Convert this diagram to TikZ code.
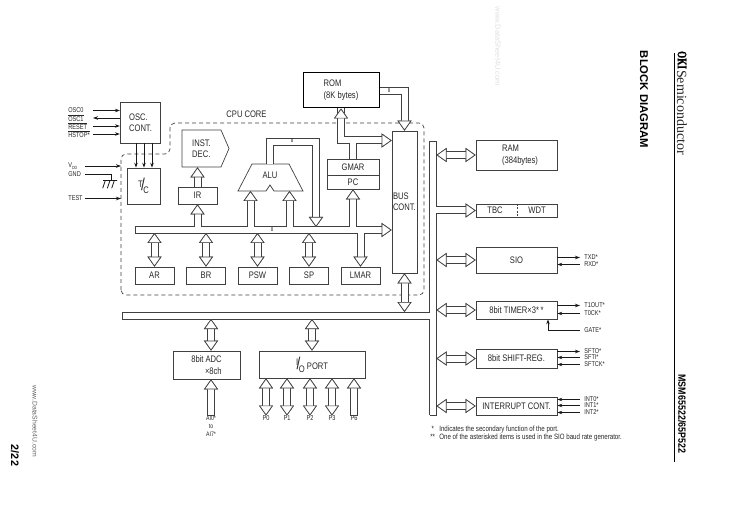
\documentclass[tikz,border=0pt]{standalone}
\usepackage{fontspec}
\setmainfont[FakeStretch=0.8]{Liberation Sans}
\newfontfamily\headfont{Liberation Sans}
\newfontfamily\modelfont[FakeStretch=0.85]{Liberation Sans}
\newfontfamily\okifont[FakeStretch=0.7,FakeBold=1]{Liberation Serif}
\newfontfamily\semifont{Liberation Serif}
\usetikzlibrary{arrows.meta,shapes.symbols,calc}

\definecolor{ink}{gray}{0.25}
\newcommand{\slashtext}[2]{\raisebox{3.5pt}{#1}\kern-1.5pt{\fontsize{17}{17}\selectfont/}\kern-1.5pt\raisebox{-3pt}{#2}}
\newcommand{\bartext}[1]{$\overline{\mbox{#1}}$}
\newcommand{\widepath}[2][]{\draw[line width=8pt, #1] #2; \draw[line width=6pt, draw=white, #1] #2;}

\begin{document}
\begin{tikzpicture}[x=1pt, y=-1pt, node distance=51.5pt, ink, line width=.7pt,
    every node/.style={text=black!85, font=\fontsize{9.5}{11}\selectfont},
    wtip/.tip={Triangle[open, color=ink, fill=white, length=10pt, width=14pt, line width=.7pt]},
    main/.style={draw, rectangle, inner sep=0pt},
    sig/.style={line width=.8pt, draw=black!90},
    stip/.style={-{Stealth[length=5pt, width=3.5pt]}},
    pin/.style={anchor=west, inner sep=4pt, font=\fontsize{7}{8}\selectfont},
    lpin/.style={anchor=west, inner sep=0pt, font=\fontsize{7}{8}\selectfont},
    tiny8/.style={inner sep=0pt, font=\fontsize{5.5}{6}\selectfont},
    note/.style={anchor=west, inner sep=0pt, font=\fontsize{7.7}{8}\selectfont}]
    \useasboundingbox (0,0) rectangle (729,516);

    % cpu core outline
    \draw[dash pattern=on 4pt off 3pt, rounded corners=5pt] (121,295) -- (121,154) -- (170,154) -- (170,123) -- (424,123) -- (424,295) -- cycle;
    \node[inner sep=0pt] (corelabel) at (246.5,114.5) {CPU CORE};

    % boxes
    \node[main, line width=1pt, draw=black, minimum width=76pt, minimum height=35pt, align=left] (rom) at (341,90.5) {ROM\\[1pt](8K bytes)};
    \node[main, minimum width=40.5pt, minimum height=41pt, align=left] (osc) at (140.5,122.5) {OSC.\\CONT.};
    \node[main, minimum width=33pt, minimum height=36pt] (tc) at (143.5,186) {\slashtext{T}{C}};
    \node[draw, signal, signal to=east, signal pointer angle=133, inner sep=0pt, minimum width=47pt, minimum height=37pt, align=left] (inst) at (201.5,148.5) {INST.\\DEC.};
    \node[main, minimum width=39pt, minimum height=17pt] (ir) at (197.5,195.5) {IR};
    \node[main, minimum width=52pt, minimum height=16pt] (gmar) at (353,167) {GMAR};
    \node[main, minimum width=52pt, minimum height=14pt] (pc) [below of=gmar, node distance=15pt] {PC};
    \node[main, minimum width=25pt, minimum height=142pt, text width=23pt, align=left] (bus) at (404.5,202) {BUS\\CONT.};

    \node[main, minimum width=39pt, minimum height=17pt] (ar) at (154.5,275.5) {AR};
    \node[main, minimum width=39pt, minimum height=17pt] (br) [right of=ar] {BR};
    \node[main, minimum width=39pt, minimum height=17pt] (psw) [right of=br] {PSW};
    \node[main, minimum width=39pt, minimum height=17pt] (sp) [right of=psw] {SP};
    \node[main, minimum width=39pt, minimum height=17pt] (lmar) [right of=sp] {LMAR};

    \node[main, minimum width=67pt, minimum height=28pt, align=right] (adc) at (206.5,365) {8bit ADC\\[1pt]×8ch};
    \node[main, minimum width=106pt, minimum height=27pt] (port) at (312,364.5) {\slashtext{I}{O} PORT};

    \node[main, minimum width=81pt, minimum height=30pt, align=left] (ram) at (516.5,155) {\hspace*{7pt}RAM\\[1pt]\hspace*{7pt}(384bytes)};
    \node[main, minimum width=81pt, minimum height=13pt] (tbc) [below of=ram, node distance=55.5pt] {};
    \node[inner sep=0pt] (tbctext) at (495,210.5) {TBC};
    \node[inner sep=0pt] (wdttext) at (537,210.5) {WDT};
    \node[main, minimum width=81pt, minimum height=26pt] (sio) [below of=tbc, node distance=49.5pt] {SIO};
    \node[main, minimum width=81pt, minimum height=18pt] (timer) [below of=sio, node distance=50pt] {8bit TIMER×3*\,*};
    \node[main, minimum width=81pt, minimum height=19pt] (shift) [below of=timer, node distance=48.5pt] {8bit SHIFT-REG.};
    \node[main, minimum width=81pt, minimum height=18pt] (intc) [below of=shift, node distance=47.5pt] {INTERRUPT CONT.};

    % alu
    \draw (252,164) -- (289,164) -- (303,191) -- (274,191) -- (270,185) -- (266,191) -- (238,191) -- cycle;
    \node[inner sep=0pt] (alu) at (270,175) {ALU};
    \coordinate (alua) at (250.5,191);
    \coordinate (alub) at (289.5,191);
    \coordinate (aluout) at (269.5,164);

    % bus names
    \coordinate (core) at (135,230);
    \coordinate (coren) at (0,227);
    \coordinate (cores) at (0,233);
    \coordinate (coree) at (370,230);
    \coordinate (lowbus) at (122,315.5);
    \coordinate (lown) at (0,312);
    \coordinate (lows) at (0,319);
    \coordinate (peritop) at (433,141);
    \coordinate (peribot) at (433,415);
    \coordinate (perie) at (436.5,0);
    \coordinate (perit) at (445,210.5);
    \coordinate (rombr) at (340.5,140.5);
    \coordinate (rombe) at (370,140.5);
    \coordinate (alutop) at (316,142);

    % core bus
    \widepath{(core) -- (coree)
        (ir.south |- core) -- (ir.south |- coren)
        (alua |- core) -- (alua |- coren)
        (alub |- core) -- (alub |- coren)
        (pc.south |- core) -- (pc.south |- coren)
        (lmar.north |- core) -- (lmar.north |- cores)}
    \draw (core |- coren) -- (core |- cores);
    \widepath[-wtip]{(coree) -- (coree -| bus.west)}
    \widepath[-wtip]{(ir.south |- coren) -- (ir.south)}
    \widepath[-wtip]{(alua |- coren) -- (alua)}
    \widepath[-wtip]{(alub |- coren) -- (alub)}
    \widepath[-wtip]{(pc.south |- coren) -- (pc.south)}
    \widepath[-wtip]{(lmar.north |- cores) -- (lmar.north)}
    \widepath[-wtip]{(ir.north) -- (ir.north |- inst.south)}
    \widepath[-wtip]{(aluout) -- (aluout |- alutop) -- (alutop) -- (alutop |- coren)}

    \widepath[wtip-wtip]{(ar.north) -- (ar.north |- cores)}
    \widepath[wtip-wtip]{(br.north) -- (br.north |- cores)}
    \widepath[wtip-wtip]{(psw.north) -- (psw.north |- cores)}
    \widepath[wtip-wtip]{(sp.north) -- (sp.north |- cores)}

    % rom and gmar
    \widepath{(rom.south) -- (rom.south |- rombr) -- (rombe) (gmar.north) -- (gmar.north |- rombr)}
    \widepath[-wtip]{(rom.south |- rombr) ++(0,-20) -- (rom.south)}
    \widepath[-wtip]{(rombe) -- (rombe -| bus.west)}
    \widepath[-wtip]{(rom.east |- 0,91.5) -- (bus.north |- 0,91.5) -- (bus.north)}

    % peripheral bus
    \widepath{(peritop) -- (peribot) (lowbus) -- (lowbus -| peritop) (perit -| peritop) -- (perit)}
    \draw ($(peritop)+(-3.5,0)$) -- ($(peritop)+(3.5,0)$);
    \draw ($(peribot)+(-3.5,0)$) -- ($(peribot)+(3.5,0)$);
    \draw (lowbus |- lown) -- (lowbus |- lows);
    \widepath[-wtip]{(perit) -- (perit -| tbc.west)}
    \widepath[wtip-wtip]{(bus.south) -- (bus.south |- lown)}
    \widepath[wtip-wtip]{(adc.north) ++(4.5,0) -- ($(adc.north |- lows)+(4.5,0)$)}
    \widepath[wtip-wtip]{(port.north) -- (port.north |- lows)}
    \widepath[wtip-wtip]{(ram.west) -- (ram.west -| perie)}
    \widepath[wtip-wtip]{(sio.west) -- (sio.west -| perie)}
    \widepath[wtip-wtip]{(timer.west) -- (timer.west -| perie)}
    \widepath[wtip-wtip]{(shift.west) -- (shift.west -| perie)}
    \widepath[wtip-wtip]{(intc.west) -- (intc.west -| perie)}

    \draw[dash pattern=on 2pt off 1.5pt] (tbc.north) ++(0.5,0) -- ++(0,13);
    \node[tiny8] (bit8a) at (272,229.8) {8};
    \node[tiny8] (bit8b) at (292,141) {8};
    \node[tiny8] (bit8c) at (389,91) {8};

    % port pins
    \node[lpin, anchor=north] (p0) at (266,415.5) {P0};
    \node[lpin, anchor=north] (p1) at (287,415.5) {P1};
    \node[lpin, anchor=north] (p2) at (310,415.5) {P2};
    \node[lpin, anchor=north] (p3) at (332,415.5) {P3};
    \node[lpin, anchor=north] (p6) at (354,415.5) {P6};
    \node[lpin, anchor=north, align=center, font=\fontsize{6.5}{8}\selectfont] (ai) at (211,415.5) {AI0*\\to\\AI7*};
    \widepath[wtip-wtip]{(p0.north) -- (p0.north |- port.south)}
    \widepath[wtip-wtip]{(p1.north) -- (p1.north |- port.south)}
    \widepath[wtip-wtip]{(p2.north) -- (p2.north |- port.south)}
    \widepath[wtip-wtip]{(p3.north) -- (p3.north |- port.south)}
    \widepath[-wtip]{(p6.north) -- (p6.north |- port.south)}
    \widepath[-wtip]{(ai.north) -- (ai.north |- adc.south)}
    \draw ($(p6.north)+(-3.5,0)$) -- ($(p6.north)+(3.5,0)$);
    \draw ($(ai.north)+(-3.5,0)$) -- ($(ai.north)+(3.5,0)$);

    % osc pins
    \coordinate (padl) at (93,0);
    \coordinate (padm) at (85,0);
    \coordinate (corew) at (121,0);
    \node[lpin] (osc0) at (68,110.5) {OSC0};
    \node[lpin] (osc1) at (68,118) {\bartext{OSC1}};
    \node[lpin] (reset) at (68,126) {\bartext{RESET}};
    \node[lpin] (hstop) at (68,134) {\bartext{HSTOP*}};
    \draw[sig, stip] (osc0 -| padl) -- (osc0 -| osc.west);
    \draw[sig, stip] (osc1 -| osc.west) -- (osc1 -| padl);
    \draw[sig, stip] (reset -| padl) -- (reset -| osc.west);
    \draw[sig, stip] (hstop -| padl) -- (hstop -| osc.west);
    \draw[sig, stip] ([xshift=-4.5pt]osc.south) -- ([xshift=-4.5pt]osc.south |- tc.north);
    \draw[sig, stip] ([xshift=3.5pt]osc.south) -- ([xshift=3.5pt]osc.south |- tc.north);
    \draw[sig, stip] ([xshift=11.5pt]osc.south) -- ([xshift=11.5pt]osc.south |- tc.north);

    \node[lpin] (vdd) at (68,166) {V\raisebox{-1.2pt}{\fontsize{4.5}{5}\selectfont DD}};
    \node[lpin] (gnd) at (68,174) {GND};
    \node[lpin] (test) at (68,198.5) {TEST};
    \coordinate (gndp) at (111,180.5);
    \draw[sig, stip] (vdd -| padm) -- (vdd -| corew);
    \draw[sig, stip] (test -| padm) -- (test -| corew);
    \draw[sig] (gnd -| padm) -| (gndp);
    \draw[sig] (103,180.5) -- (117,180.5) (105.3,180.5) -- (102.7,188.3) (110,180.5) -- (107.3,188.3) (114.3,180.5) -- (111.7,188.3);

    % right pins
    \node[pin] (txd) at (580,257.5) {TXD*};
    \node[pin] (rxd) at (580,264.5) {RXD*};
    \node[pin] (t1out) at (580,305.5) {T1OUT*};
    \node[pin] (t0ck) at (580,313.5) {T0CK*};
    \node[pin] (gate) at (580,330.5) {GATE*};
    \node[pin] (sfto) at (580,351.5) {SFTO*};
    \node[pin] (sfti) at (580,357.5) {SFTI*};
    \node[pin] (sftck) at (580,364.5) {SFTCK*};
    \node[pin] (int0) at (580,399.5) {INT0*};
    \node[pin] (int1) at (580,405.5) {INT1*};
    \node[pin] (int2) at (580,412.5) {INT2*};
    \coordinate (gatetap) at (548,0);
    \draw[sig, stip] (txd -| sio.east) -- (txd.west);
    \draw[sig, stip] (rxd.west) -- (rxd -| sio.east);
    \draw[sig, stip] (t1out -| timer.east) -- (t1out.west);
    \draw[sig, stip] (t0ck.west) -- (t0ck -| timer.east);
    \draw[sig, stip] (gate.west) -| (gatetap |- timer.south);
    \draw[sig, stip] (sfto -| shift.east) -- (sfto.west);
    \draw[sig, stip] (sfti.west) -- (sfti -| shift.east);
    \draw[sig, stip] (sftck.west) -- (sftck -| shift.east);
    \draw[sig, stip] (int0.west) -- (int0 -| intc.east);
    \draw[sig, stip] (int1.west) -- (int1 -| intc.east);
    \draw[sig, stip] (int2.west) -- (int2 -| intc.east);

    % notes
    \node[note] (note1) at (430,430) {\makebox[9pt][l]{\,*}Indicates the secondary function of the port.};
    \node[note] (note2) at (430,438) {\makebox[9pt][l]{**}One of the asterisked items is used in the SIO baud rate generator.};

    % page margins
    \draw[draw=black] (674,53) -- (674,462);
    \node[rotate=-90, inner sep=0pt, font=\okifont\bfseries\fontsize{13}{14}\selectfont, text=black] (oki) at (682,60) {OKI};
    \node[rotate=-90, inner sep=0pt, font=\semifont\fontsize{14}{14}\selectfont] (semi) at (682,112.5) {Semiconductor};
    \node[rotate=-90, inner sep=0pt, font=\headfont\bfseries\fontsize{11.3}{12}\selectfont, text=black] (title) at (644,99.5) {BLOCK DIAGRAM};
    \node[rotate=-90, inner sep=0pt, font=\modelfont\bfseries\fontsize{10.5}{12}\selectfont, text=black] (model) at (682,414) {MSM65522/65P522};
    \node[rotate=-90, inner sep=0pt, font=\headfont\bfseries\fontsize{10.8}{12}\selectfont, text=black] (page) at (15,455.5) {2/22};
    \node[rotate=-90, inner sep=0pt, font=\headfont\fontsize{6.8}{8}\selectfont, text=black!60] (urla) at (35,421) {www.DataSheet4U.com};
    \node[rotate=-90, inner sep=0pt, font=\headfont\fontsize{7.5}{8}\selectfont, text=black!12] (urlb) at (498,46.5) {www.DataSheet4U.com};
\end{tikzpicture}
\end{document}
